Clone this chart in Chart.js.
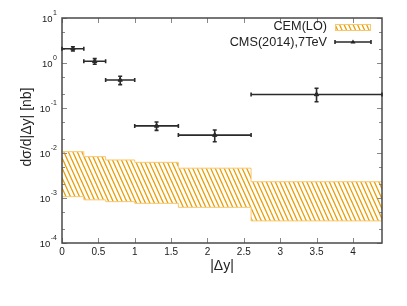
<!DOCTYPE html>
<html lang="en">
<head>
<meta charset="UTF-8">
<title>dσ/d|Δy| CEM vs CMS</title>
<script src="https://cdn.jsdelivr.net/npm/chart.js@4.4.1/dist/chart.umd.min.js"></script>
<style>
  * { margin: 0; padding: 0; box-sizing: border-box; }
  body { background: #fff; width: 407px; height: 306px; overflow: hidden; }
  #wrap { width: 407px; height: 306px; }
</style>
</head>
<body>
<div id="wrap"><canvas id="chart" width="407" height="306"></canvas></div>
<script>
// |Δy| bins
const binLo = [0, 0.3, 0.6, 1.0, 1.6, 2.6];
const binHi = [0.3, 0.6, 1.0, 1.6, 2.6, 4.4];

// CEM(LO) band edges per bin [nb]
const cemUpper = [0.0107, 0.0083, 0.0070, 0.0062, 0.0046, 0.0023];
const cemLower = [0.00107, 0.00091, 0.00083, 0.00076, 0.00062, 0.00031];

// CMS(2014), 7 TeV points
const cmsX = [0.15, 0.45, 0.8, 1.3, 2.1, 3.5];
const cmsY = [2.08, 1.09, 0.42, 0.040, 0.025, 0.20];
const cmsYLo = [1.85, 0.94, 0.33, 0.0319, 0.0178, 0.138];
const cmsYHi = [2.30, 1.25, 0.506, 0.0489, 0.0325, 0.274];

// axis ticks
const xTicks = [0, 0.5, 1, 1.5, 2, 2.5, 3, 3.5, 4];
const xTickLabels = ['0', '0.5', '1', '1.5', '2', '2.5', '3', '3.5', '4'];
const yTicks = [1e-4, 1e-3, 1e-2, 1e-1, 1, 10];
const yExponents = ['-4', '-3', '-2', '-1', '0', '1'];
const yMinor = [2, 5];

const FONT = '"Liberation Sans", Arial, sans-serif';
const ORANGE = '#eb9c00';
const ORANGE_EDGE = '#f7c870';

function stepPoints(vals) {
    const pts = binLo.map((x, i) => ({ x: x, y: vals[i] }));
    pts.push({ x: binHi[binHi.length - 1], y: vals[vals.length - 1] });
    return pts;
}

function makeHatch(ctx) {
    const c = document.createElement('canvas');
    c.width = 9;
    c.height = 20;
    const g = c.getContext('2d');
    g.strokeStyle = ORANGE;
    g.lineWidth = 1.3;
    for (let x0 = -18; x0 <= 18; x0 += 4.5) {
        g.beginPath();
        g.moveTo(x0 - 0.9, -2);
        g.lineTo(x0 + 9.9, 22);
        g.stroke();
    }
    return ctx.createPattern(c, 'repeat');
}

const canvas = document.getElementById('chart');
const ctx = canvas.getContext('2d');
const hatch = makeHatch(ctx);

// frame, ticks, labels, error bars and legend
const decorPlugin = {
    id: 'decor',
    afterDatasetsDraw(chart) {
        const c = chart.ctx;
        const xs = chart.scales.x, ys = chart.scales.y;
        const a = chart.chartArea;
        c.save();

        // minor + major ticks, inside, on all four sides
        c.strokeStyle = '#888';
        c.lineWidth = 1;
        c.beginPath();
        yTicks.forEach(v => {
            const py = Math.round(ys.getPixelForValue(v)) + 0.5;
            c.moveTo(a.left, py); c.lineTo(a.left + 5, py);
            c.moveTo(a.right, py); c.lineTo(a.right - 5, py);
            if (v < 10) {
                yMinor.forEach(m => {
                    const my = Math.round(ys.getPixelForValue(v * m)) + 0.5;
                    c.moveTo(a.left, my); c.lineTo(a.left + 3, my);
                    c.moveTo(a.right, my); c.lineTo(a.right - 3, my);
                });
            }
        });
        xTicks.forEach(v => {
            const px = Math.round(xs.getPixelForValue(v)) + 0.5;
            c.moveTo(px, a.bottom); c.lineTo(px, a.bottom - 5);
            c.moveTo(px, a.top); c.lineTo(px, a.top + 5);
        });
        c.stroke();

        // frame
        c.strokeStyle = '#4a4a4a';
        c.lineWidth = 1.5;
        c.strokeRect(a.left, a.top, a.right - a.left, a.bottom - a.top);

        // error bars
        c.strokeStyle = '#2a2a2a';
        c.lineWidth = 1.6;
        c.beginPath();
        cmsX.forEach((xv, i) => {
            const px = xs.getPixelForValue(xv);
            const xl = xs.getPixelForValue(binLo[i]);
            const xr = xs.getPixelForValue(binHi[i]);
            const py = ys.getPixelForValue(cmsY[i]);
            const yl = ys.getPixelForValue(cmsYLo[i]);
            const yh = ys.getPixelForValue(cmsYHi[i]);
            c.moveTo(xl, py); c.lineTo(xr, py);
            c.moveTo(xl, py - 2); c.lineTo(xl, py + 2);
            c.moveTo(xr, py - 2); c.lineTo(xr, py + 2);
            c.moveTo(px, yl); c.lineTo(px, yh);
            c.moveTo(px - 2, yl); c.lineTo(px + 2, yl);
            c.moveTo(px - 2, yh); c.lineTo(px + 2, yh);
        });
        c.stroke();

        // tick labels
        c.fillStyle = '#222';
        c.font = '10px ' + FONT;
        c.textAlign = 'center';
        c.textBaseline = 'middle';
        xTicks.forEach((v, i) => {
            c.fillText(xTickLabels[i], xs.getPixelForValue(v), a.bottom + 9);
        });
        yTicks.forEach((v, i) => {
            const py = ys.getPixelForValue(v);
            c.font = '7px ' + FONT;
            const ew = c.measureText(yExponents[i]).width;
            c.textAlign = 'right';
            c.fillText(yExponents[i], 57, py - 5);
            c.font = '9.5px ' + FONT;
            c.fillText('10', 57 - ew - 0.5, py + 1);
        });

        // axis titles
        c.font = '14px ' + FONT;
        c.textAlign = 'center';
        c.fillText('|Δy|', (a.left + a.right) / 2, 266);
        c.save();
        c.translate(27, 127);
        c.rotate(-Math.PI / 2);
        c.fillText('dσ/d|Δy| [nb]', 0, 0);
        c.restore();

        // legend
        c.font = '12.7px ' + FONT;
        c.textAlign = 'right';
        c.fillText('CEM(LO)', 327, 26.5);
        c.fillText('CMS(2014),7TeV', 327, 42);
        c.fillStyle = hatch;
        c.fillRect(335, 24, 36, 7);
        c.strokeStyle = ORANGE_EDGE;
        c.lineWidth = 1;
        c.strokeRect(335.5, 24.5, 35, 6);
        c.strokeStyle = '#2a2a2a';
        c.lineWidth = 1.6;
        c.beginPath();
        c.moveTo(335, 42); c.lineTo(371, 42);
        c.moveTo(335, 40); c.lineTo(335, 44);
        c.moveTo(371, 40); c.lineTo(371, 44);
        c.stroke();
        c.fillStyle = '#222';
        c.beginPath();
        c.moveTo(353, 39.5); c.lineTo(355.5, 43.5); c.lineTo(350.5, 43.5);
        c.closePath();
        c.fill();

        c.restore();
    }
};

new Chart(ctx, {
    type: 'scatter',
    data: {
        datasets: [
            {
                label: 'CEM lower',
                data: stepPoints(cemLower),
                showLine: true,
                stepped: 'before',
                borderColor: ORANGE_EDGE,
                borderWidth: 1,
                pointRadius: 0,
                fill: false
            },
            {
                label: 'CEM(LO)',
                data: stepPoints(cemUpper),
                showLine: true,
                stepped: 'before',
                borderColor: ORANGE_EDGE,
                borderWidth: 1,
                pointRadius: 0,
                backgroundColor: hatch,
                fill: '-1'
            },
            {
                label: 'CMS(2014),7TeV',
                data: cmsX.map((x, i) => ({ x: x, y: cmsY[i] })),
                pointStyle: 'triangle',
                pointRadius: 2.5,
                backgroundColor: '#222',
                borderColor: '#222',
                borderWidth: 1
            }
        ]
    },
    options: {
        responsive: false,
        animation: false,
        devicePixelRatio: 1,
        layout: { padding: { top: 18, right: 25, left: 0, bottom: 0 } },
        plugins: {
            legend: { display: false },
            tooltip: { enabled: false }
        },
        scales: {
            x: {
                type: 'linear',
                min: 0,
                max: 4.4,
                grid: { display: false },
                border: { display: false },
                ticks: { display: false },
                afterBuildTicks: s => { s.ticks = xTicks.map(v => ({ value: v })); },
                afterFit: s => { s.height = 63; }
            },
            y: {
                type: 'logarithmic',
                min: 1e-4,
                max: 10,
                grid: { display: false },
                border: { display: false },
                ticks: { display: false },
                afterBuildTicks: s => { s.ticks = yTicks.map(v => ({ value: v })); },
                afterFit: s => { s.width = 62; }
            }
        }
    },
    plugins: [decorPlugin]
});
</script>
</body>
</html>
